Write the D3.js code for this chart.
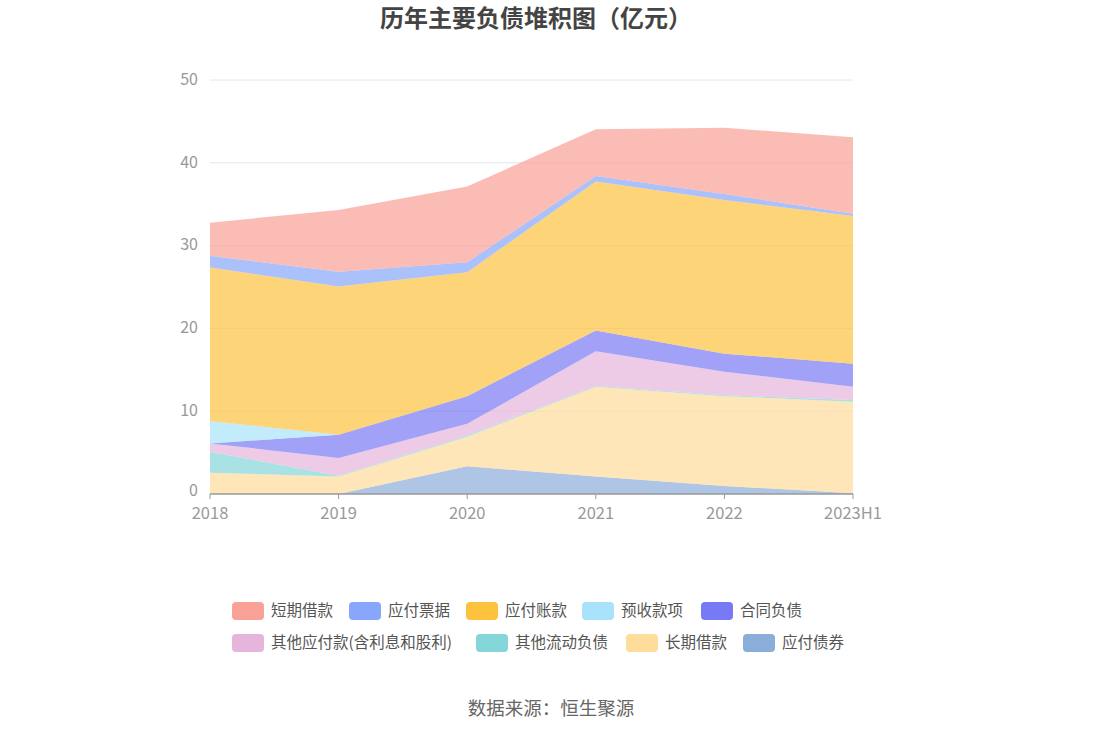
<!DOCTYPE html>
<html>
<head>
<meta charset="utf-8">
<script src="https://cdn.jsdelivr.net/npm/d3@7"></script>
<style>
  body { margin: 0; background: #fff; }
  text { font-family: "Noto Sans CJK SC", "Noto Sans", sans-serif; }
</style>
</head>
<body>
<div id="chart"></div>
<script>
// data (亿元)
var years = ['2018', '2019', '2020', '2021', '2022', '2023H1'];
var seriesNames = ['应付债券', '长期借款', '其他流动负债', '其他应付款(含利息和股利)', '合同负债', '预收款项', '应付账款', '应付票据', '短期借款'];
var bonds      = [0,    0,    3.35, 2.1,  0.97, 0.1];
var longLoans  = [2.57, 2.1,  3.57, 10.85, 10.85, 11.05];
var otherCur   = [2.54, 0.1,  0.15, 0.1,  0.1,  0.2];
var otherPay   = [1.0,  2.15, 1.4,  4.2,  2.85, 1.6];
var contract   = [0,    2.8,  3.35, 2.5,  2.18, 2.78];
var advance    = [2.7,  0,    0,    0,    0,    0];
var payables   = [18.56, 17.9, 14.97, 18.0, 18.55, 17.83];
var notes      = [1.4,  1.8,  1.2,  0.65, 0.73, 0.28];
var shortLoans = [4.0,  7.45, 9.15, 5.65, 8.0,  9.25];
var yTicks = [0, 10, 20, 30, 40, 50];

var colors = ['#8badda', '#fedc9a', '#84d6d8', '#e6b5dc', '#7879f4', '#a8e2fb', '#fdc23e', '#88a6fb', '#f9a097'];
var legendOrder = ['短期借款', '应付票据', '应付账款', '预收款项', '合同负债', '其他应付款(含利息和股利)', '其他流动负债', '长期借款', '应付债券'];

var svgWidth = 1102, svgHeight = 734;
var margin = {t: 80, l: 210, r: 249, b: 240};
var width = svgWidth - margin.l - margin.r,
    height = 494 - margin.t;

var svg = d3.select('#chart').append('svg')
  .attr('width', svgWidth)
  .attr('height', svgHeight);

// table for the stack
var allSeries = [bonds, longLoans, otherCur, otherPay, contract, advance, payables, notes, shortLoans];
var table = years.map((y, i) => {
  var row = {year: y};
  seriesNames.forEach((n, k) => row[n] = allSeries[k][i]);
  return row;
});
var stacked = d3.stack().keys(seriesNames)(table);

var xScale = d3.scalePoint().domain(years).range([0, width]);
var yScale = d3.scaleLinear().domain([0, 50]).range([height, 0]);

var g = svg.append('g').attr('transform', `translate(${margin.l},${margin.t})`);

// grid
g.selectAll('.grid').data(yTicks.filter(d => d > 0)).enter()
  .append('line')
  .attr('x1', 0).attr('x2', width)
  .attr('y1', d => yScale(d)).attr('y2', d => yScale(d))
  .attr('stroke', '#e0e6f1').attr('stroke-width', 1);

var area = d3.area()
  .x(d => xScale(d.data.year))
  .y0(d => yScale(d[0]))
  .y1(d => yScale(d[1]));

g.selectAll('.layer').data(stacked).enter()
  .append('path')
  .attr('d', area)
  .attr('fill', (d, i) => colors[i])
  .attr('fill-opacity', 0.7);

// y labels
g.selectAll('.ylab').data(yTicks).enter()
  .append('text')
  .attr('x', -12).attr('y', d => yScale(d))
  .attr('dy', d => d === 0 ? '0.1em' : '0.3em')
  .attr('text-anchor', 'end')
  .attr('fill', '#999').attr('font-size', 16)
  .text(d => d);

// x axis
var xAxis = g.append('g').attr('transform', `translate(0,${height})`);
xAxis.append('line').attr('x1', 0).attr('x2', width).attr('stroke', '#999').attr('stroke-width', 1.5);
xAxis.selectAll('.tick').data(years).enter()
  .append('line')
  .attr('x1', d => xScale(d)).attr('x2', d => xScale(d))
  .attr('y1', 0).attr('y2', 5)
  .attr('stroke', '#999');
xAxis.selectAll('.xlab').data(years).enter()
  .append('text')
  .attr('x', d => xScale(d)).attr('y', 25)
  .attr('text-anchor', 'middle')
  .attr('fill', '#999').attr('font-size', 16.5)
  .text(d => d);

// title
svg.append('text')
  .attr('x', 536).attr('y', 27)
  .attr('text-anchor', 'middle')
  .attr('font-size', 24).attr('font-weight', 'bold')
  .attr('fill', '#444')
  .text('历年主要负债堆积图（亿元）');

// legend
var legendPos = [[232, 611], [349, 611], [466, 611], [582, 611], [701, 611],
                 [232, 643], [476, 643], [626, 643], [743, 643]];
var legend = svg.append('g');
legendOrder.forEach((name, i) => {
  var k = seriesNames.indexOf(name);
  var item = legend.append('g').attr('transform', `translate(${legendPos[i][0]},${legendPos[i][1]})`);
  item.append('rect')
    .attr('x', 0).attr('y', -9)
    .attr('width', 32).attr('height', 18)
    .attr('rx', 4)
    .attr('fill', colors[k]);
  item.append('text')
    .attr('x', 39).attr('y', 0)
    .attr('dy', '0.35em')
    .attr('font-size', 15.5).attr('fill', '#555')
    .text(name);
});

// source
svg.append('text')
  .attr('x', 551).attr('y', 709)
  .attr('dy', '0.35em')
  .attr('text-anchor', 'middle')
  .attr('font-size', 18.5).attr('fill', '#666')
  .text('数据来源：恒生聚源');
</script>
</body>
</html>
